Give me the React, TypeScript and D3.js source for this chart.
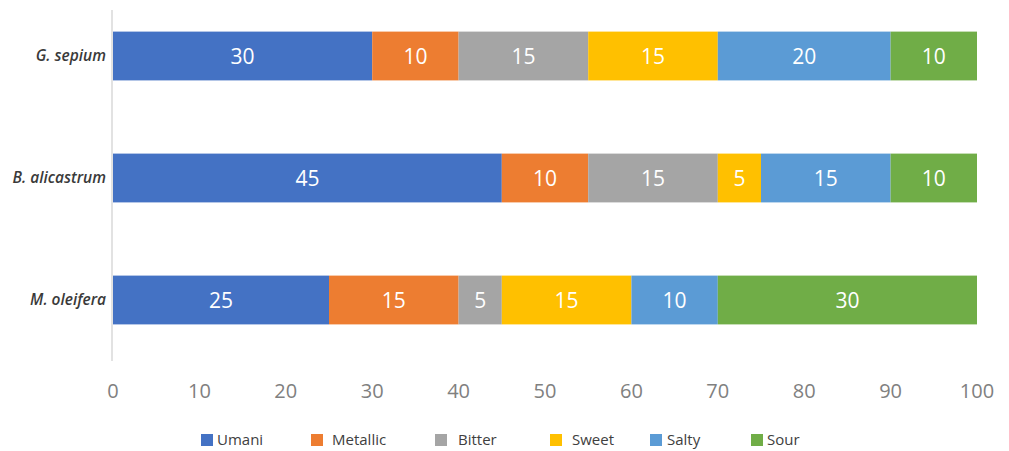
import React from "react";
import * as d3 from "d3";

const categories = ["G. sepium", "B. alicastrum", "M. oleifera"];
const seriesNames = ["Umani", "Metallic", "Bitter", "Sweet", "Salty", "Sour"];
const umani = [30, 45, 25];
const metallic = [10, 10, 15];
const bitter = [15, 15, 5];
const sweet = [15, 5, 15];
const salty = [20, 15, 10];
const sour = [10, 10, 30];
const xTicks = [0, 10, 20, 30, 40, 50, 60, 70, 80, 90, 100];
const colors = ["#4472C4", "#ED7D31", "#A5A5A5", "#FFC000", "#5B9BD5", "#70AD47"];
const legendSquareX = [201, 311, 435, 550, 650, 751];
const legendTextX = [217, 332, 458, 572, 667, 767];

export default function App() {
  const W = 1009, H = 451;
  const seriesVals = [umani, metallic, bitter, sweet, salty, sour];
  const rows = categories.map((c, i) => {
    const o: any = { cat: c };
    seriesNames.forEach((s, j) => (o[s] = seriesVals[j][i]));
    return o;
  });
  const stack = d3.stack<any>().keys(seriesNames)(rows);
  const x = d3.scaleLinear().domain([0, 100]).range([113, 977]);
  const y = d3.scaleBand().domain(categories).range([-5, 361]).paddingInner(0.6).paddingOuter(0.3);
  const font = "'Open Sans', sans-serif";
  return (
    <svg width={W} height={H} style={{ position: "absolute", left: 0, top: 0 }}>
      <rect width={W} height={H} fill="#fff" />
      <line x1={112} x2={112} y1={10} y2={361} stroke="#d9d9d9" strokeWidth={1.5} />
      {stack.map((layer, j) =>
        layer.map((d, i) => {
          const cat = categories[i];
          const x0 = x(d[0]), x1 = x(d[1]);
          const yy = y(cat)!;
          return (
            <g key={`${j}-${i}`}>
              <rect x={x0} y={yy} width={x1 - x0} height={y.bandwidth()} fill={colors[j]} />
              <text x={(x0 + x1) / 2} y={yy + y.bandwidth() / 2} dy="0.36em" textAnchor="middle"
                fill="#fff" fontSize={21} fontFamily={font}>{d[1] - d[0]}</text>
            </g>
          );
        })
      )}
      {categories.map((c) => (
        <text key={c} x={106} y={y(c)! + y.bandwidth() / 2} dy="0.35em" textAnchor="end"
          fontStyle="italic" fontWeight={600} fontSize={15.5} fill="#3a3a3a" fontFamily={font}>{c}</text>
      ))}
      {xTicks.map((t) => (
        <text key={t} x={x(t)} y={391} dy="0.36em" textAnchor="middle" fontSize={20}
          fill="#808080" fontFamily={font}>{t}</text>
      ))}
      {seriesNames.map((s, j) => (
        <g key={s}>
          <rect x={legendSquareX[j]} y={434} width={12} height={12} fill={colors[j]} />
          <text x={legendTextX[j]} y={440} dy="0.36em" fontSize={15} fill="#404040" fontFamily={font}>{s}</text>
        </g>
      ))}
    </svg>
  );
}
